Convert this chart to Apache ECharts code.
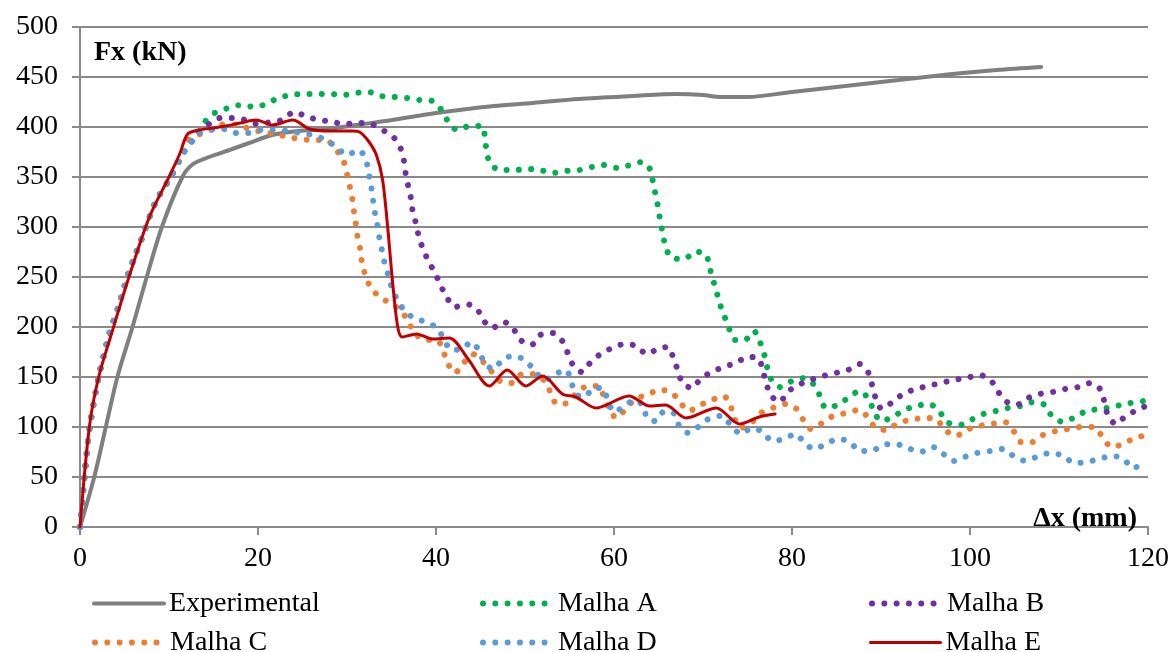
<!DOCTYPE html>
<html><head><meta charset="utf-8">
<script src="https://cdn.jsdelivr.net/npm/echarts@6/dist/echarts.min.js"></script>
<style>html,body{margin:0;padding:0;background:#fff}#c{width:1174px;height:652px}</style>
</head><body><div id="c"></div>
<script>
const xTickValues = [0, 20, 40, 60, 80, 100, 120];
const yTickValues = [0, 50, 100, 150, 200, 250, 300, 350, 400, 450, 500];
const seriesNames = ['Experimental', 'Malha A', 'Malha B', 'Malha C', 'Malha D', 'Malha E'];

const experimental = [[0,0],[1.6,50],[2.9,100],[4.2,150],[5.9,200],[7.4,247],[9.2,300],[11.5,350],[12.7,363],[14.5,370],[16.8,377],[19,384],[21.6,392],[24.5,396],[27.6,398],[31,402],[35.1,407],[38.5,412],[42.6,417],[46.5,421],[50.9,424],[56,428],[62.1,431],[67,433],[70,432],[72,430],[75,430],[80,435],[86,441],[92,447],[98,453],[103,457],[108,460]];

const malhaA = [[0,0],[0.5,50],[1.1,100],[2.1,150],[3.2,190],[4.3,220],[5.5,255],[7,290],[8.5,325],[10.2,350],[11.6,374],[12.5,385],[13.2,393],[14.2,407],[15.3,415],[16.7,419],[18.1,422],[19.6,420],[20.9,423],[22.3,429],[23.7,432],[25.2,433],[26.7,433],[28.2,433],[29.6,432],[30.9,434],[32.4,435],[33.8,431],[35.3,430],[36.8,429],[38.2,427],[39.6,426],[40.7,416],[41.4,405],[42.4,397],[43.8,401],[45.2,401],[45.5,388],[45.7,376],[46.1,363],[47.3,357],[48.8,357],[50.3,358],[51.7,357],[53.1,354],[54.6,356],[56.1,357],[57.5,360],[58.9,362],[60.4,359],[61.8,362],[63.2,365],[64.1,357],[64.4,344],[64.7,331],[65.0,318],[65.2,306],[65.5,293],[65.8,280],[66.5,269],[67.9,268],[69.1,275],[70.3,273],[70.7,261],[71.1,248],[71.5,236],[71.9,223],[72.4,211],[72.9,199],[73.6,187],[74.7,187],[75.7,196],[76.4,185],[76.9,172],[77.2,160],[77.7,147],[78.7,140],[80.0,146],[81.4,149],[82.5,142],[83.2,130],[83.8,119],[85.1,122],[86.3,129],[87.6,136],[88.6,128],[89.2,116],[90.0,106],[91.3,110],[92.6,117],[94.0,121],[95.4,123],[96.6,115],[97.4,105],[98.8,102],[100.1,107],[101.5,113],[102.9,116],[104.3,119],[105.7,121],[107.2,125],[108.4,122],[109.2,111],[110.5,105],[111.8,110],[113.1,116],[114.6,118],[116.0,120],[117.4,123],[118.9,125],[120,127]];

const malhaB = [[0,0],[0.5,50],[1.1,100],[2.1,150],[3.2,190],[4.3,220],[5.5,255],[7,290],[8.5,325],[10.2,350],[11.6,374],[12.5,385],[13.4,396],[14.5,403],[15.7,409],[17.1,409],[18.6,407],[20.0,403],[21.5,405],[22.7,407],[24.1,415],[25.5,410],[27.0,407],[28.4,405],[29.8,403],[31.3,404],[32.7,403],[34.0,397],[35.2,390],[36.0,379],[36.4,366],[36.6,353],[36.9,340],[37.2,328],[37.4,315],[37.8,302],[38.1,289],[38.6,277],[39.2,265],[39.9,254],[40.5,242],[41.2,230],[42.1,220],[43.4,223],[44.6,218],[45.3,207],[46.3,199],[47.6,205],[48.7,198],[49.5,187],[50.7,182],[51.7,192],[53.1,194],[54.2,186],[54.8,174],[55.4,162],[56.4,155],[57.4,165],[58.5,173],[59.8,179],[61.2,183],[62.5,181],[63.7,173],[64.9,178],[66.1,180],[66.7,168],[67.2,156],[67.7,144],[68.8,139],[69.7,148],[71.0,155],[72.3,160],[73.7,164],[75.0,170],[76.2,169],[76.7,157],[77.1,144],[77.6,132],[78.6,125],[79.5,135],[80.7,142],[82.1,147],[83.5,151],[84.9,154],[86.3,157],[87.6,163],[88.6,154],[89.0,142],[89.4,129],[90.1,118],[91.3,125],[92.5,133],[93.9,138],[95.3,141],[96.7,144],[98.2,147],[99.6,149],[101.0,152],[102.3,147],[103.1,136],[104.0,126],[105.2,122],[106.5,129],[107.8,133],[109.3,135],[110.7,138],[112.2,140],[113.6,144],[114.7,137],[115.1,125],[115.5,112],[116.4,103],[117.5,111],[118.8,117],[120.0,122]];

const malhaC = [[0,0],[0.5,50],[1.1,100],[2.1,150],[3.2,190],[4.3,220],[5.5,255],[7,290],[8.5,325],[10.2,350],[11.6,374],[12.3,388],[13.5,393],[14.9,398],[16.3,403],[17.7,402],[19.1,398],[20.5,395],[21.9,393],[23.4,390],[24.8,388],[26.2,387],[27.6,387],[28.8,377],[29.6,366],[30.0,353],[30.3,341],[30.6,328],[30.8,315],[31.0,303],[31.2,290],[31.5,277],[31.7,264],[32.1,251],[32.7,239],[33.7,230],[35.0,223],[36.1,216],[36.9,205],[37.6,194],[38.8,187],[40.1,187],[40.8,176],[41.3,164],[42.1,154],[43.1,164],[44.1,173],[45.2,166],[46.2,156],[47.2,146],[48.5,144],[49.7,153],[51.0,153],[52.2,146],[52.9,134],[53.6,123],[54.8,124],[55.8,134],[57.1,141],[58.3,141],[58.9,129],[59.5,117],[60.3,109],[61.3,118],[62.4,128],[63.7,132],[65.1,137],[66.4,135],[67.4,125],[68.4,116],[69.7,122],[71.0,127],[72.3,131],[73.1,121],[73.5,109],[74.2,99],[75.4,104],[76.5,114],[77.8,119],[79.2,123],[80.4,119],[81.2,108],[82.1,98],[83.4,104],[84.6,111],[86.1,114],[87.5,117],[88.6,109],[89.4,99],[90.7,97],[91.9,104],[93.3,107],[94.8,109],[96.2,108],[97.1,98],[98.4,91],[99.6,97],[101.0,101],[102.4,103],[103.9,105],[104.9,96],[105.7,85],[107.0,85],[108.2,92],[109.7,96],[111.1,98],[112.5,100],[113.9,100],[114.9,90],[115.9,80],[117.2,83],[118.5,89],[120.0,92]];

const malhaD = [[0,0],[0.5,50],[1.1,100],[2.1,150],[3.2,190],[4.3,220],[5.5,255],[7,290],[8.5,325],[10.2,350],[11.6,374],[12.5,385],[13.2,393],[14.7,397],[16.1,398],[17.5,394],[18.9,394],[20.4,397],[21.8,397],[23.3,396],[24.7,394],[26.1,392],[27.6,387],[28.8,380],[30.0,372],[31.3,377],[32.1,368],[32.4,355],[32.7,342],[32.9,329],[33.1,316],[33.4,303],[33.6,291],[33.9,278],[34.2,265],[34.6,253],[35.0,240],[35.6,228],[36.4,217],[37.5,209],[38.9,205],[40.1,199],[40.9,188],[41.7,177],[42.9,178],[44.0,185],[44.9,175],[45.5,163],[46.5,158],[47.5,168],[48.8,171],[50.1,166],[51.1,156],[52.2,147],[53.4,153],[54.6,157],[55.2,145],[55.7,133],[56.7,130],[57.7,139],[58.7,139],[59.3,127],[60.0,115],[61.2,121],[62.3,127],[63.3,121],[63.7,109],[64.6,106],[65.7,116],[66.8,113],[67.4,100],[68.4,94],[69.6,101],[70.8,109],[72.1,111],[73.2,101],[74.3,93],[75.5,99],[76.7,95],[77.8,86],[79.1,88],[80.4,93],[81.4,84],[82.5,78],[83.8,83],[85.2,88],[86.5,85],[87.6,76],[88.9,76],[90.2,82],[91.6,83],[93.0,79],[94.4,75],[95.8,80],[97.0,73],[98.1,66],[99.4,70],[100.8,74],[102.3,76],[103.7,78],[104.9,71],[106.3,66],[107.7,71],[109.1,74],[110.5,71],[111.7,64],[113.1,65],[114.5,68],[116.0,71],[117.3,68],[118.2,59],[119.6,63]];

const malhaE = [[0,0],[1.05,100],[2.1,150],[3.6,195],[5.5,250],[7.8,310],[10,350],[11.2,373],[12.1,393],[13.4,397],[15,399],[16.4,401],[18,404],[19.8,407],[21.6,402],[23.9,407],[25.8,398],[28,396],[30.6,396],[31.4,395],[32.4,386],[33.3,372],[34.0,347],[34.6,297],[35.1,247],[35.7,200],[36.2,190],[37.8,193],[39.6,188],[41.5,189],[43.6,168],[46.0,141],[48.0,157],[50.1,141],[52.0,151],[54.2,133],[55.7,130],[58.0,119],[61.7,131],[64.0,121],[65.8,122],[68.1,109],[71.5,119],[74.1,103],[76.3,110],[78.1,113]];

const colors = ['#7f7f7f', '#00b050', '#7030a0', '#ed7d31', '#5b9bd5', '#c00000'];
const FONT = "'Liberation Serif', 'Times New Roman', serif";
const GRID = '#8a8a8a';
const DOT = [0.01, 12.3];

const seriesData = [experimental, malhaA, malhaB, malhaC, malhaD, malhaE];

function lineStyleFor(i) {
  const dotted = i >= 1 && i <= 4;
  return dotted
    ? { color: colors[i], width: 6, type: DOT, cap: 'round' }
    : { color: colors[i], width: i === 0 ? 4 : 3, type: 'solid', cap: 'round' };
}

function makeSeries(i) {
  return {
    name: seriesNames[i],
    type: 'line',
    data: seriesData[i],
    symbol: 'none',
    smooth: 0.3,
    animation: false,
    lineStyle: lineStyleFor(i),
    itemStyle: { color: colors[i] },
    z: 2 + i
  };
}

// legend layout: 3 columns x 2 rows
const legendSlots = [
  { i: 0, left: 87, top: 584 },
  { i: 1, left: 475, top: 584 },
  { i: 2, left: 864, top: 584 },
  { i: 3, left: 87, top: 623 },
  { i: 4, left: 475, top: 623 },
  { i: 5, left: 864, top: 623 }
];

function makeLegend(s) {
  return {
    left: s.left, top: s.top,
    data: [seriesNames[s.i]],
    itemWidth: 70, itemHeight: 14,
    selectedMode: false,
    itemStyle: { color: 'rgba(0,0,0,0)', borderWidth: 0, opacity: 0 },
    lineStyle: lineStyleFor(s.i),
    textStyle: { fontFamily: FONT, fontSize: 28, color: '#000', lineHeight: 29 }
  };
}

const chart = echarts.init(document.getElementById('c'), null, { renderer: 'canvas' });
chart.setOption({
  animation: false,
  backgroundColor: '#fff',
  grid: { left: 80, right: 26, top: 27, bottom: 125, containLabel: false },
  xAxis: {
    type: 'value', min: 0, max: 120, interval: 20,
    axisLine: { show: true, lineStyle: { color: GRID, width: 2 } },
    axisTick: { show: true, length: 8, lineStyle: { color: GRID, width: 2 } },
    axisLabel: { fontFamily: FONT, fontSize: 28, color: '#000', margin: 18 },
    splitLine: { show: false }
  },
  yAxis: {
    type: 'value', min: 0, max: 500, interval: 50,
    axisLine: { show: true, lineStyle: { color: GRID, width: 2 } },
    axisTick: { show: true, length: 8, lineStyle: { color: GRID, width: 2 } },
    axisLabel: { fontFamily: FONT, fontSize: 28, color: '#000', margin: 22 },
    splitLine: { show: true, lineStyle: { color: GRID, width: 2 } }
  },
  legend: legendSlots.map(makeLegend),
  graphic: [
    { type: 'text', left: 94, top: 39, z: 100,
      style: { text: 'Fx (kN)', font: "bold 28px " + FONT, fill: '#000' } },
    { type: 'text', right: 37, top: 505, z: 100,
      style: { text: 'Δx (mm)', font: "bold 28px " + FONT, fill: '#000' } }
  ],
  series: [0, 1, 2, 3, 4, 5].map(makeSeries)
});
</script>
</body></html>
